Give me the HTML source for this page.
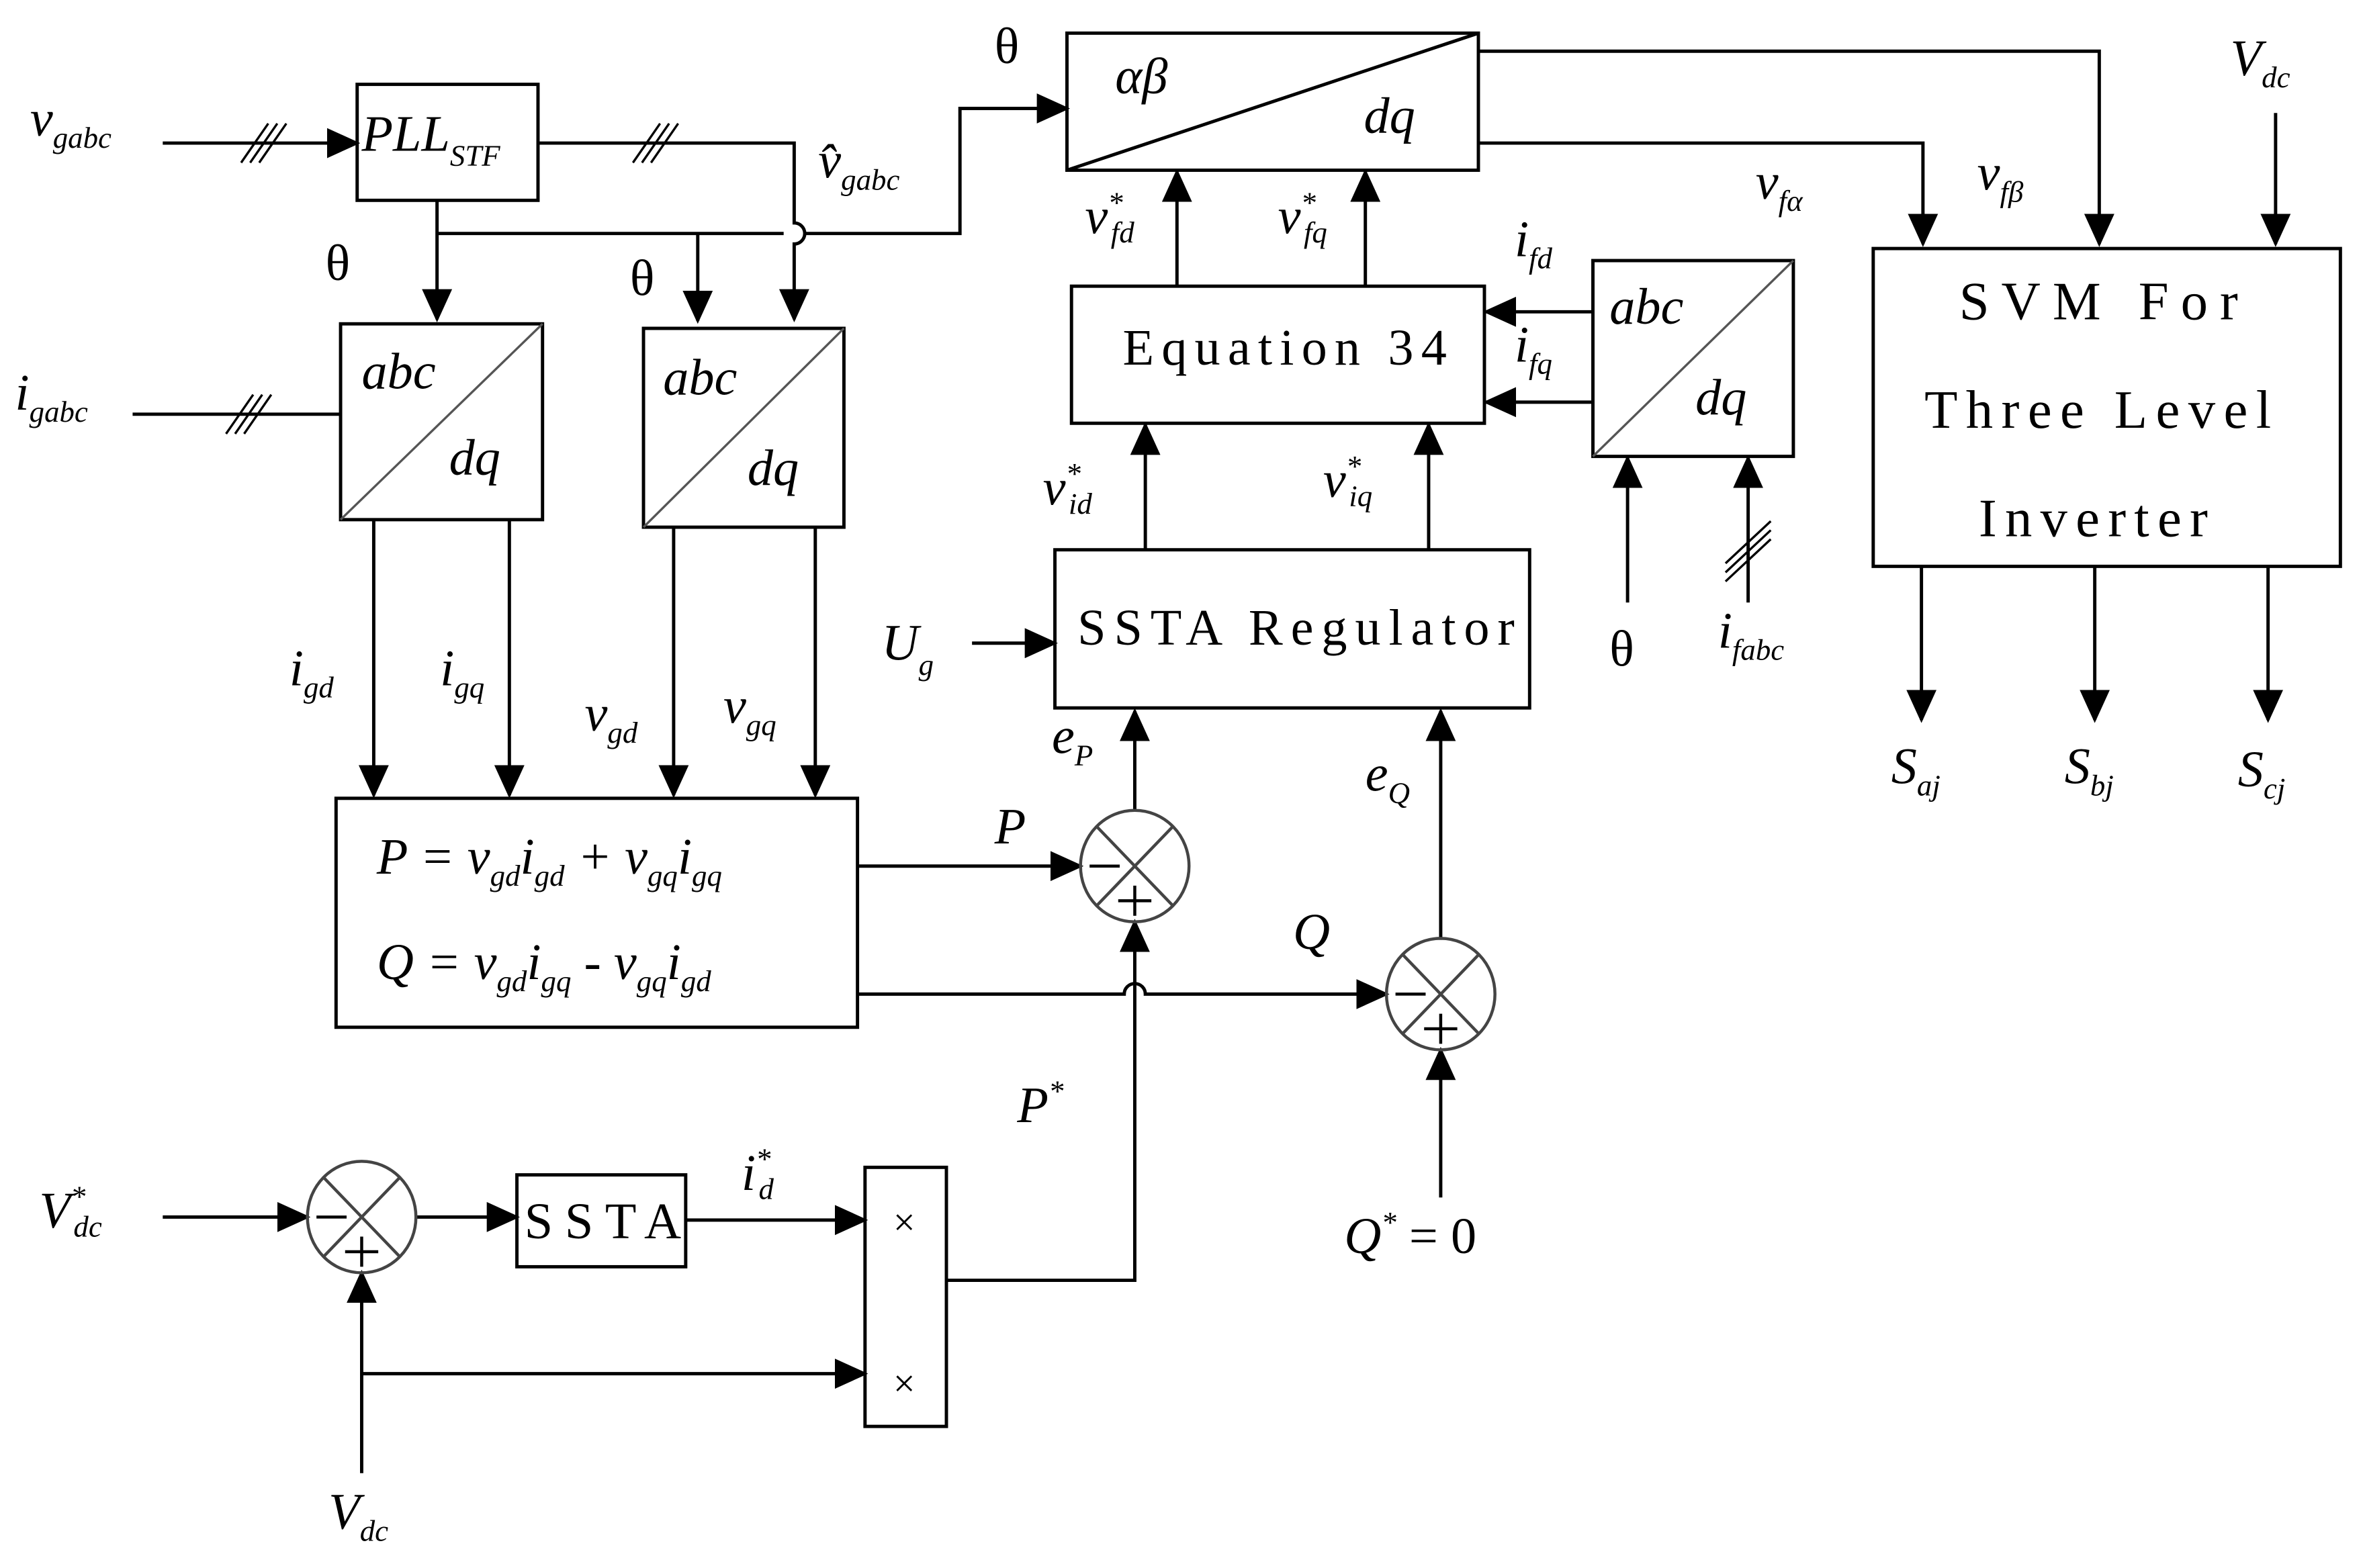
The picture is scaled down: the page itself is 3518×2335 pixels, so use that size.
<!DOCTYPE html>
<html><head><meta charset="utf-8"><style>
html,body{margin:0;padding:0;background:#fff}
svg{display:block}
text{font-family:"Liberation Serif",serif;fill:#000}
.i{font-style:italic}
</style></head><body>
<svg width="3518" height="2335" viewBox="0 0 1568 1041" preserveAspectRatio="none" xmlns="http://www.w3.org/2000/svg">
<defs>
<marker id="b" markerWidth="22" markerHeight="20" refX="20" refY="10" orient="auto" markerUnits="userSpaceOnUse" viewBox="0 0 22 20">
<path d="M0,0 L22,10 L0,20 z" fill="#000"/></marker>
</defs>
<g fill="none" stroke="#000" stroke-width="2.2">
<rect x="237" y="56" width="120" height="77"/>
<rect x="226" y="215" width="134" height="130"/><line x1="226" y1="345" x2="360" y2="215" stroke="#555" stroke-width="1.5"/>
<rect x="427" y="218" width="133" height="132"/><line x1="427" y1="350" x2="560" y2="218" stroke="#555" stroke-width="1.5"/>
<rect x="708" y="22" width="273" height="91"/><line x1="708" y1="113" x2="981" y2="22"/>
<rect x="711" y="190" width="274" height="91"/>
<rect x="1057" y="173" width="133" height="130"/><line x1="1057" y1="303" x2="1190" y2="173" stroke="#555" stroke-width="1.5"/>
<rect x="1243" y="165" width="310" height="211"/>
<rect x="700" y="365" width="315" height="105"/>
<rect x="223" y="530" width="346" height="152"/>
<rect x="343" y="780" width="112" height="61"/>
<rect x="574" y="775" width="54" height="172"/>
<line x1="108" y1="95" x2="237" y2="95" marker-end="url(#b)"/>
<path d="M357,95 H527 V148 A7,7 0 0 1 527,162 V212" marker-end="url(#b)"/>
<line x1="290" y1="133" x2="290" y2="212" marker-end="url(#b)"/>
<path d="M290,155 H520 M534,155 H637 V72 H708" marker-end="url(#b)"/>
<line x1="463" y1="155" x2="463" y2="213" marker-end="url(#b)"/>
<line x1="88" y1="275" x2="226" y2="275"/>
<line x1="248" y1="345" x2="248" y2="528" marker-end="url(#b)"/>
<line x1="338" y1="345" x2="338" y2="528" marker-end="url(#b)"/>
<line x1="447" y1="350" x2="447" y2="528" marker-end="url(#b)"/>
<line x1="541" y1="350" x2="541" y2="528" marker-end="url(#b)"/>
<line x1="569" y1="575" x2="717" y2="575" marker-end="url(#b)"/>
<path d="M569,660 H746 A7,7 0 0 1 760,660 H920" marker-end="url(#b)"/>
<path d="M628,850 H753 V612" marker-end="url(#b)"/>
<line x1="753" y1="539" x2="753" y2="472" marker-end="url(#b)"/>
<line x1="956" y1="624" x2="956" y2="472" marker-end="url(#b)"/>
<line x1="956" y1="795" x2="956" y2="697" marker-end="url(#b)"/>
<line x1="645" y1="427" x2="700" y2="427" marker-end="url(#b)"/>
<line x1="760" y1="365" x2="760" y2="282" marker-end="url(#b)"/>
<line x1="948" y1="365" x2="948" y2="282" marker-end="url(#b)"/>
<line x1="781" y1="190" x2="781" y2="114" marker-end="url(#b)"/>
<line x1="906" y1="190" x2="906" y2="114" marker-end="url(#b)"/>
<path d="M981,34 H1393 V162" marker-end="url(#b)"/>
<path d="M981,95 H1276 V162" marker-end="url(#b)"/>
<line x1="1510" y1="75" x2="1510" y2="162" marker-end="url(#b)"/>
<line x1="1275" y1="376" x2="1275" y2="478" marker-end="url(#b)"/>
<line x1="1390" y1="376" x2="1390" y2="478" marker-end="url(#b)"/>
<line x1="1505" y1="376" x2="1505" y2="478" marker-end="url(#b)"/>
<line x1="1057" y1="207" x2="986" y2="207" marker-end="url(#b)"/>
<line x1="1057" y1="267" x2="986" y2="267" marker-end="url(#b)"/>
<line x1="1080" y1="400" x2="1080" y2="304" marker-end="url(#b)"/>
<line x1="1160" y1="400" x2="1160" y2="304" marker-end="url(#b)"/>
<line x1="108" y1="808" x2="204" y2="808" marker-end="url(#b)"/>
<line x1="276" y1="808" x2="343" y2="808" marker-end="url(#b)"/>
<line x1="455" y1="810" x2="574" y2="810" marker-end="url(#b)"/>
<line x1="240" y1="978" x2="240" y2="845" marker-end="url(#b)"/>
<line x1="240" y1="912" x2="574" y2="912" marker-end="url(#b)"/>
</g>
<g stroke="#000" stroke-width="1.5">
<path d="M160,108 L178,82 M166,108 L184,82 M172,108 L190,82"/>
<path d="M420,108 L438,82 M426,108 L444,82 M432,108 L450,82"/>
<path d="M150,288 L168,262 M156,288 L174,262 M162,288 L180,262"/>
<path d="M1145,374 L1175,346 M1145,380 L1175,352 M1145,386 L1175,358"/>
</g>
<g stroke="#444" stroke-width="2" fill="none">
<ellipse cx="753" cy="575" rx="36" ry="37"/><path d="M728,549 L778,601 M778,549 L728,601"/>
<ellipse cx="956" cy="660" rx="36" ry="37"/><path d="M931,634 L981,686 M981,634 L931,686"/>
<ellipse cx="240" cy="808" rx="36" ry="37"/><path d="M215,782 L265,834 M265,782 L215,834"/>
</g>
<g stroke="#000" stroke-width="2">
<path d="M723,575 H743 M742,598 H764 M753,588 V608"/>
<path d="M926,660 H946 M945,683 H967 M956,673 V693"/>
<path d="M210,808 H230 M229,831 H251 M240,821 V841"/>
</g>
<g font-size="34">
<text x="240" y="100" class="i">PLL<tspan font-size="20" dy="10">STF</tspan></text>
<text x="240" y="258" class="i">abc</text><text x="298" y="315" class="i">dq</text>
<text x="440" y="262" class="i">abc</text><text x="496" y="322" class="i">dq</text>
<text x="1068" y="215" class="i">abc</text><text x="1125" y="275" class="i">dq</text>
<text x="740" y="62" class="i">αβ</text><text x="905" y="88" class="i">dq</text>
<text x="745" y="242" textLength="215" lengthAdjust="spacing">Equation 34</text>
<text x="715" y="428" textLength="290" lengthAdjust="spacing">SSTA Regulator</text>
<text x="1300" y="212" font-size="36" textLength="185" lengthAdjust="spacing">SVM For</text>
<text x="1277" y="284" font-size="36" textLength="230" lengthAdjust="spacing">Three Level</text>
<text x="1313" y="356" font-size="36" textLength="152" lengthAdjust="spacing">Inverter</text>
<text x="348" y="822" textLength="104" lengthAdjust="spacing">SSTA</text>
<text x="600" y="820" text-anchor="middle" font-size="26">×</text>
<text x="600" y="927" text-anchor="middle" font-size="26">×</text>
<text x="250" y="580" class="i">P = v<tspan font-size="20" dy="8">gd</tspan><tspan dy="-8">i</tspan><tspan font-size="20" dy="8">gd</tspan><tspan dy="-8"> + v</tspan><tspan font-size="20" dy="8">gq</tspan><tspan dy="-8">i</tspan><tspan font-size="20" dy="8">gq</tspan></text>
<text x="250" y="650" class="i">Q = v<tspan font-size="20" dy="8">gd</tspan><tspan dy="-8">i</tspan><tspan font-size="20" dy="8">gq</tspan><tspan dy="-8"> - v</tspan><tspan font-size="20" dy="8">gq</tspan><tspan dy="-8">i</tspan><tspan font-size="20" dy="8">gd</tspan></text>
<text x="20" y="90" class="i">v<tspan font-size="20" dy="8">gabc</tspan></text>
<text x="10" y="272" class="i">i<tspan font-size="20" dy="8">gabc</tspan></text>
<text x="216" y="186">θ</text><text x="418" y="196">θ</text><text x="660" y="42">θ</text><text x="1068" y="442">θ</text>
<text x="543" y="118" class="i">v̂<tspan font-size="20" dy="8">gabc</tspan></text>
<text x="192" y="455" class="i">i<tspan font-size="20" dy="8">gd</tspan></text>
<text x="292" y="455" class="i">i<tspan font-size="20" dy="8">gq</tspan></text>
<text x="388" y="485" class="i">v<tspan font-size="20" dy="8">gd</tspan></text>
<text x="480" y="480" class="i">v<tspan font-size="20" dy="8">gq</tspan></text>
<text x="660" y="560" class="i">P</text>
<text x="858" y="630" class="i">Q</text>
<text x="675" y="745" class="i">P<tspan font-size="20" dy="-14">*</tspan></text>
<text x="698" y="500" class="i">e<tspan font-size="20" dy="8">P</tspan></text>
<text x="906" y="525" class="i">e<tspan font-size="20" dy="8">Q</tspan></text>
<text x="585" y="438" class="i">U<tspan font-size="20" dy="10">g</tspan></text>
<text x="892" y="832" class="i">Q<tspan font-size="20" dy="-14">*</tspan><tspan dy="14" font-style="normal"> = 0</tspan></text>
<text x="692" y="335" class="i">v<tspan font-size="20" dy="-14">*</tspan><tspan font-size="20" dy="20" dx="-8">id</tspan></text>
<text x="878" y="330" class="i">v<tspan font-size="20" dy="-14">*</tspan><tspan font-size="20" dy="20" dx="-8">iq</tspan></text>
<text x="720" y="155" class="i">v<tspan font-size="20" dy="-14">*</tspan><tspan font-size="20" dy="20" dx="-8">fd</tspan></text>
<text x="848" y="155" class="i">v<tspan font-size="20" dy="-14">*</tspan><tspan font-size="20" dy="20" dx="-8">fq</tspan></text>
<text x="1005" y="170" class="i">i<tspan font-size="20" dy="8">fd</tspan></text>
<text x="1005" y="240" class="i">i<tspan font-size="20" dy="8">fq</tspan></text>
<text x="1165" y="132" class="i">v<tspan font-size="20" dy="8">fα</tspan></text>
<text x="1312" y="126" class="i">v<tspan font-size="20" dy="8">fβ</tspan></text>
<text x="1480" y="50" class="i">V<tspan font-size="20" dy="8">dc</tspan></text>
<text x="1140" y="430" class="i">i<tspan font-size="20" dy="8">fabc</tspan></text>
<text x="1255" y="520" class="i">S<tspan font-size="20" dy="8">aj</tspan></text>
<text x="1370" y="520" class="i">S<tspan font-size="20" dy="8">bj</tspan></text>
<text x="1485" y="522" class="i">S<tspan font-size="20" dy="8">cj</tspan></text>
<text x="26" y="815" class="i">V<tspan font-size="20" dy="-14">*</tspan><tspan font-size="20" dy="20" dx="-8">dc</tspan></text>
<text x="492" y="790" class="i">i<tspan font-size="20" dy="-14">*</tspan><tspan font-size="20" dy="20" dx="-8">d</tspan></text>
<text x="218" y="1015" class="i">V<tspan font-size="20" dy="8">dc</tspan></text>
</g>
</svg>
</body></html>
